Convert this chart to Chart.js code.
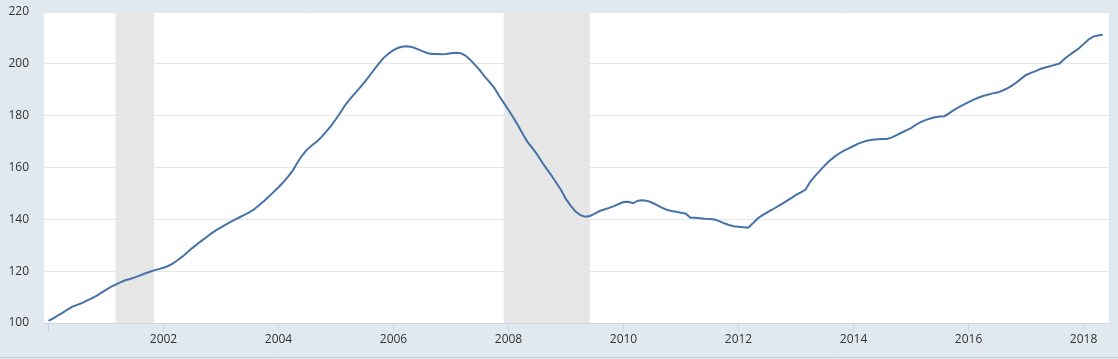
<!DOCTYPE html>
<html>
<head>
<meta charset="utf-8">
<script src="https://cdn.jsdelivr.net/npm/chart.js@4/dist/chart.umd.min.js"></script>
<style>
  html, body { margin: 0; padding: 0; background: #e1e9f0; }
  canvas { display: block; }
</style>
</head>
<body>
<canvas id="c" width="1118" height="359"></canvas>
<script>
// Monthly index values, starting January 2000
const firstMonth = '2000-01';
const values = [
  // 2000
  100.8, 101.8, 102.9, 104.0, 105.2, 106.3, 107.0, 107.7, 108.6, 109.5, 110.5, 111.6,
  // 2001
  112.8, 113.9, 114.8, 115.7, 116.5, 117.0, 117.6, 118.3, 119.0, 119.7, 120.3, 120.8,
  // 2002
  121.3, 122.0, 123.0, 124.3, 125.7, 127.3, 128.9, 130.4, 131.8, 133.2, 134.6, 135.8,
  // 2003
  136.9, 138.0, 139.0, 140.0, 140.9, 141.8, 142.8, 144.0, 145.5, 147.1, 148.8, 150.6,
  // 2004
  152.4, 154.3, 156.5, 158.9, 162.0, 164.8, 167.0, 168.6, 170.0, 171.8, 173.9, 176.2,
  // 2005
  178.7, 181.4, 184.3, 186.6, 188.7, 190.8, 193.0, 195.4, 197.9, 200.3, 202.4, 204.0,
  // 2006
  205.3, 206.2, 206.7, 206.8, 206.4, 205.7, 204.9, 204.2, 203.8, 203.8, 203.7, 203.8,
  // 2007
  204.1, 204.3, 204.1, 203.2, 201.6, 199.6, 197.6, 195.2, 193.0, 190.8, 187.8, 185.0,
  // 2008
  182.2, 179.3, 176.2, 172.8, 169.8, 167.5, 165.0, 162.0, 159.4, 156.8, 154.0, 151.2,
  // 2009
  147.8, 145.2, 143.0, 141.6, 141.0, 141.3, 142.2, 143.2, 143.8, 144.4, 145.1, 145.9,
  // 2010
  146.7, 146.8, 146.2, 147.2, 147.4, 147.1, 146.4, 145.5, 144.5, 143.7, 143.2, 142.9,
  // 2011
  142.5, 142.2, 140.6, 140.6, 140.4, 140.2, 140.1, 139.9, 139.3, 138.5, 137.8, 137.3,
  // 2012
  137.1, 136.9, 136.8, 138.5, 140.3, 141.6, 142.7, 143.7, 144.8, 145.9, 147.0, 148.2,
  // 2013
  149.4, 150.4, 151.5, 154.6, 156.8, 158.8, 160.8, 162.6, 164.1, 165.4, 166.5, 167.4,
  // 2014
  168.3, 169.2, 169.9, 170.4, 170.7, 170.9, 171.0, 171.0, 171.6, 172.5, 173.4, 174.3,
  // 2015
  175.2, 176.5, 177.5, 178.3, 178.9, 179.4, 179.7, 179.8, 181.0, 182.2, 183.3, 184.3,
  // 2016
  185.2, 186.1, 186.9, 187.6, 188.1, 188.6, 188.9, 189.6, 190.4, 191.5, 192.8, 194.3,
  // 2017
  195.7, 196.5, 197.2, 198.0, 198.6, 199.1, 199.6, 200.1, 201.9, 203.3, 204.6, 205.9,
  // 2018
  207.6, 209.3, 210.5, 210.9, 211.2
];
const recessionStarts = ['2001-03', '2007-12'];
const recessionEnds   = ['2001-11', '2009-06'];
const xTickYears = [2000, 2002, 2004, 2006, 2008, 2010, 2012, 2014, 2016, 2018];
const yTicks = [100, 120, 140, 160, 180, 200, 220];

function toDecimal(ym) {
  const [y, m] = ym.split('-').map(Number);
  return y + (m - 1) / 12;
}
const t0 = toDecimal(firstMonth);
const points = values.map((v, i) => ({ x: t0 + i / 12, y: v }));

const bgPlugin = {
  id: 'bg',
  beforeDraw(chart) {
    const { ctx, chartArea: a } = chart;
    ctx.save();
    ctx.fillStyle = '#ffffff';
    ctx.fillRect(a.left, a.top, a.right - a.left, a.bottom - a.top);
    ctx.strokeStyle = '#c8ccd0';
    ctx.lineWidth = 1;
    ctx.beginPath();
    ctx.moveTo(0, 357.5);
    ctx.lineTo(chart.width, 357.5);
    ctx.stroke();
    ctx.restore();
  },
  beforeDatasetsDraw(chart) {
    const { ctx, chartArea: a, scales } = chart;
    ctx.save();
    ctx.fillStyle = '#e6e6e6';
    recessionStarts.forEach((s, i) => {
      const x1 = scales.x.getPixelForValue(toDecimal(s));
      const x2 = scales.x.getPixelForValue(toDecimal(recessionEnds[i]));
      ctx.fillRect(x1, a.top, x2 - x1, a.bottom - a.top);
    });
    ctx.restore();
  }
};

new Chart(document.getElementById('c'), {
  type: 'line',
  data: {
    datasets: [{
      data: points,
      borderColor: '#4572a7',
      borderWidth: 2,
      pointRadius: 0,
      tension: 0,
      fill: false
    }]
  },
  options: {
    responsive: false,
    animation: false,
    devicePixelRatio: 1,
    layout: { padding: { top: 12, right: 9, left: 0, bottom: 0 } },
    plugins: { legend: { display: false }, tooltip: { enabled: false } },
    scales: {
      x: {
        type: 'linear',
        min: 1999.922,
        max: 2018.443,
        afterBuildTicks(scale) { scale.ticks = xTickYears.map(v => ({ value: v })); },
        afterFit(scale) { scale.height = 36; scale.paddingLeft = 0; scale.paddingRight = 0; },
        grid: { drawOnChartArea: false, color: '#ccd6eb', tickLength: 9, lineWidth: 1 },
        border: { display: true, color: '#ccd6eb', width: 1 },
        ticks: {
          autoSkip: false, maxRotation: 0, padding: 0,
          color: '#333333',
          font: { family: 'Open Sans', size: 12 },
          callback: v => (v === 2000 ? '' : String(v))
        }
      },
      y: {
        min: 100,
        max: 220,
        afterBuildTicks(scale) { scale.ticks = yTicks.map(v => ({ value: v })); },
        afterFit(scale) { scale.width = 44; scale.paddingTop = 0; scale.paddingBottom = 0; },
        grid: { color: '#e6e6e6', drawTicks: false, lineWidth: 1 },
        border: { display: false },
        ticks: {
          padding: 15,
          color: '#333333',
          font: { family: 'Open Sans', size: 12 }
        }
      }
    }
  },
  plugins: [bgPlugin]
});
</script>
</body>
</html>
